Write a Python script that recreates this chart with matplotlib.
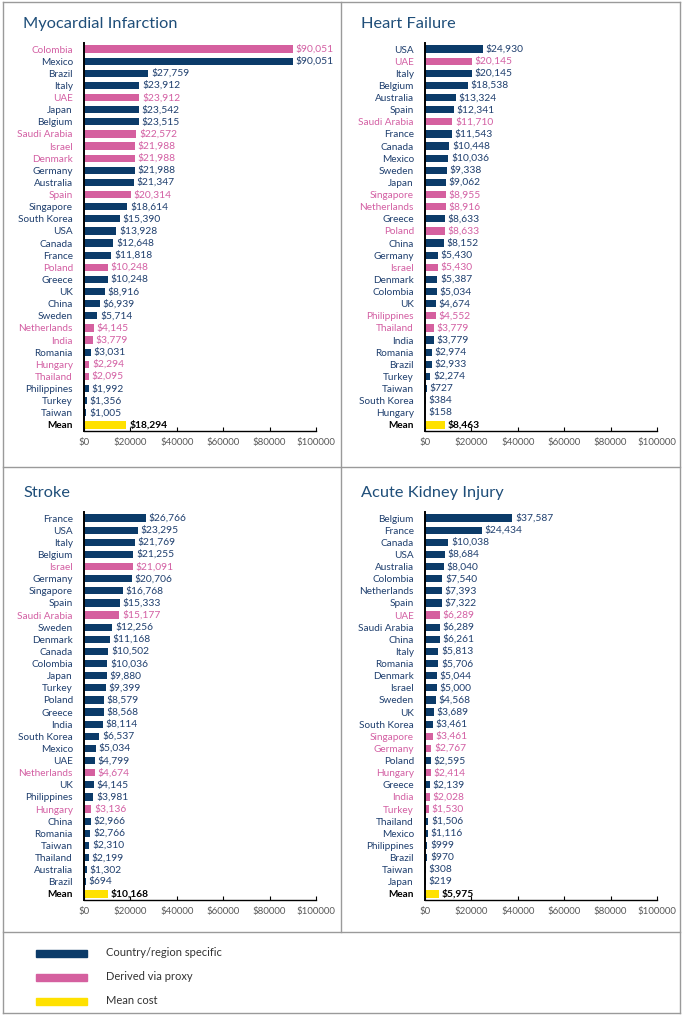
import matplotlib.pyplot as plt
from matplotlib.patches import Rectangle
from matplotlib.lines import Line2D

plt.rcParams['font.family'] = ['Lato', 'DejaVu Sans']

# ================= DATA =================
mi_countries = ["Colombia", "Mexico", "Brazil", "Italy", "UAE", "Japan", "Belgium",
                "Saudi Arabia", "Israel", "Denmark", "Germany", "Australia", "Spain",
                "Singapore", "South Korea", "USA", "Canada", "France", "Poland", "Greece",
                "UK", "China", "Sweden", "Netherlands", "India", "Romania", "Hungary",
                "Thailand", "Philippines", "Turkey", "Taiwan"]
mi_values = [90051, 90051, 27759, 23912, 23912, 23542, 23515, 22572, 21988, 21988, 21988,
             21347, 20314, 18614, 15390, 13928, 12648, 11818, 10248, 10248, 8916, 6939,
             5714, 4145, 3779, 3031, 2294, 2095, 1992, 1356, 1005]
mi_proxy = ["Colombia", "UAE", "Saudi Arabia", "Israel", "Denmark", "Spain", "Poland",
            "Netherlands", "India", "Hungary", "Thailand"]
mi_mean = 18294

hf_countries = ["USA", "UAE", "Italy", "Belgium", "Australia", "Spain", "Saudi Arabia",
                "France", "Canada", "Mexico", "Sweden", "Japan", "Singapore", "Netherlands",
                "Greece", "Poland", "China", "Germany", "Israel", "Denmark", "Colombia", "UK",
                "Philippines", "Thailand", "India", "Romania", "Brazil", "Turkey", "Taiwan",
                "South Korea", "Hungary"]
hf_values = [24930, 20145, 20145, 18538, 13324, 12341, 11710, 11543, 10448, 10036, 9338,
             9062, 8955, 8916, 8633, 8633, 8152, 5430, 5430, 5387, 5034, 4674, 4552, 3779,
             3779, 2974, 2933, 2274, 727, 384, 158]
hf_proxy = ["UAE", "Saudi Arabia", "Singapore", "Netherlands", "Poland", "Israel",
            "Philippines", "Thailand"]
hf_mean = 8463

st_countries = ["France", "USA", "Italy", "Belgium", "Israel", "Germany", "Singapore",
                "Spain", "Saudi Arabia", "Sweden", "Denmark", "Canada", "Colombia", "Japan",
                "Turkey", "Poland", "Greece", "India", "South Korea", "Mexico", "UAE",
                "Netherlands", "UK", "Philippines", "Hungary", "China", "Romania", "Taiwan",
                "Thailand", "Australia", "Brazil"]
st_values = [26766, 23295, 21769, 21255, 21091, 20706, 16768, 15333, 15177, 12256, 11168,
             10502, 10036, 9880, 9399, 8579, 8568, 8114, 6537, 5034, 4799, 4674, 4145, 3981,
             3136, 2966, 2766, 2310, 2199, 1302, 694]
st_proxy = ["Israel", "Saudi Arabia", "Netherlands", "Hungary"]
st_mean = 10168

aki_countries = ["Belgium", "France", "Canada", "USA", "Australia", "Colombia", "Netherlands",
                 "Spain", "UAE", "Saudi Arabia", "China", "Italy", "Romania", "Denmark",
                 "Israel", "Sweden", "UK", "South Korea", "Singapore", "Germany", "Poland",
                 "Hungary", "Greece", "India", "Turkey", "Thailand", "Mexico", "Philippines",
                 "Brazil", "Taiwan", "Japan"]
aki_values = [37587, 24434, 10038, 8684, 8040, 7540, 7393, 7322, 6289, 6289, 6261, 5813, 5706,
              5044, 5000, 4568, 3689, 3461, 3461, 2767, 2595, 2414, 2139, 2028, 1530, 1506,
              1116, 999, 970, 308, 219]
aki_proxy = ["UAE", "Singapore", "Germany", "Hungary", "India", "Turkey"]
aki_mean = 5975

tick_values = [0, 20000, 40000, 60000, 80000, 100000]
tick_labels = ["$0", "$20000", "$40000", "$60000", "$80000", "$100000"]
legend_labels = ["Country/region specific", "Derived via proxy", "Mean cost"]
# ========================================

NAVY = "#0b3b69"
PINK = "#d5609f"
YELLOW = "#ffe100"
NAVY_TXT = "#1f3f6e"
PINK_TXT = "#d35fa3"
GREY = "#9a9a9a"

W, H = 682, 1015
fig = plt.figure(figsize=(W / 100, H / 100), dpi=100)


def px_axes(left, top, width, height):
    return fig.add_axes([left / W, 1 - (top + height) / H, width / W, height / H])


def draw_panel(left, top, title, title_x, countries, values, proxy, mean):
    ax = px_axes(left, top, 232, 388)
    names = countries + ["Mean"]
    vals = values + [mean]
    colors = [PINK if c in proxy else NAVY for c in countries] + [YELLOW]
    ypos = list(range(len(names)))
    ax.barh(ypos, vals, height=0.6, color=colors)
    ax.set_ylim(len(names) - 0.5, -0.5)
    ax.set_xlim(0, 100000)
    ax.set_yticks(ypos)
    ax.set_yticklabels(names, fontsize=7.2)
    for lbl, c in zip(ax.get_yticklabels(), names):
        if c == "Mean":
            lbl.set_color("black")
            lbl.set_fontweight("bold")
        elif c in proxy:
            lbl.set_color(PINK_TXT)
        else:
            lbl.set_color(NAVY_TXT)
    for i, (c, v) in enumerate(zip(names, vals)):
        if c == "Mean":
            ax.annotate(f"${v:,}", (v, i), xytext=(2, 0), textcoords="offset points",
                        va="center", ha="left", fontsize=7.4, color="black", fontweight="bold")
        else:
            ax.annotate(f"${v:,}", (v, i), xytext=(2, 0), textcoords="offset points",
                        va="center", ha="left", fontsize=7.4,
                        color=PINK_TXT if c in proxy else NAVY_TXT)
    ax.tick_params(axis="y", length=0, pad=8)
    ax.set_xticks(tick_values)
    ax.set_xticklabels(tick_labels, fontsize=7, color="#595959")
    ax.tick_params(axis="x", direction="in", length=3, pad=5)
    for s in ["top", "right"]:
        ax.spines[s].set_visible(False)
    ax.spines["left"].set_linewidth(1.4)
    ax.spines["bottom"].set_linewidth(1.0)
    ax.patch.set_alpha(0)
    fig.text(title_x / W, 1 - (top - 19) / H, title, fontsize=11.8, color="#1f4e79",
             ha="left", va="center")


draw_panel(84, 43, "Myocardial Infarction", 23, mi_countries, mi_values, mi_proxy, mi_mean)
draw_panel(425, 43, "Heart Failure", 361, hf_countries, hf_values, hf_proxy, hf_mean)
draw_panel(84, 512, "Stroke", 23, st_countries, st_values, st_proxy, st_mean)
draw_panel(425, 512, "Acute Kidney Injury", 361, aki_countries, aki_values, aki_proxy, aki_mean)

# panel borders
def hline(y, x0, x1):
    fig.add_artist(Line2D([x0 / W, x1 / W], [1 - y / H, 1 - y / H], color=GREY, lw=1))


def vline(x, y0, y1):
    fig.add_artist(Line2D([x / W, x / W], [1 - y0 / H, 1 - y1 / H], color=GREY, lw=1))


hline(2, 3, 680)
hline(467, 3, 680)
hline(932, 3, 680)
hline(1013, 3, 680)
vline(3, 2, 1013)
vline(680, 2, 1013)
vline(341, 2, 932)

# legend
for i, (lab, col) in enumerate(zip(legend_labels, [NAVY, PINK, YELLOW])):
    yc = 953 + i * 24
    fig.add_artist(Rectangle((36 / W, 1 - (yc + 3.5) / H), 51 / W, 7 / H,
                             color=col, transform=fig.transFigure))
    fig.text(106 / W, 1 - yc / H, lab, fontsize=8, color="#333333", va="center", ha="left")

fig.savefig("out.png", dpi=100)
